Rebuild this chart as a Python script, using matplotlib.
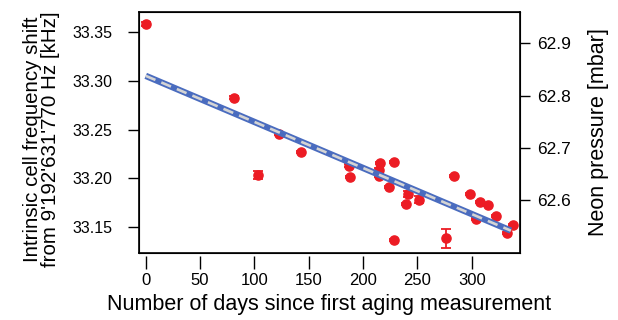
import numpy as np
import matplotlib.pyplot as plt

plt.rcParams['font.family'] = ['Liberation Sans', 'DejaVu Sans']

# measurements: days, frequency shift [kHz], error [kHz]
days = [0, 81.6, 103.6, 122.4, 142.9, 186.8, 188, 215.3, 214.7, 215, 228.5,
        224.2, 228.2, 241.4, 239.3, 251.5, 276.6, 283.4, 298.1, 304.2, 307.9,
        315, 322.4, 332.8, 338]
shift = [33.359, 33.283, 33.203, 33.245, 33.227, 33.213, 33.201, 33.216,
         33.208, 33.202, 33.2165, 33.191, 33.136, 33.184, 33.173, 33.178,
         33.138, 33.202, 33.184, 33.158, 33.175, 33.172, 33.161, 33.144,
         33.152]
err = [0.002, 0.002, 0.004, 0.001, 0.001, 0.002, 0.001, 0.001, 0.002,
       0.001, 0.001, 0.001, 0.001, 0.003, 0.001, 0.004, 0.0095, 0.001,
       0.001, 0.001, 0.001, 0.001, 0.001, 0.001, 0.001]

# linear fit as drawn
fit_days = [0, 336]
fit_shift = [33.3053, 33.146]

fig = plt.figure(figsize=(6.18, 3.2), dpi=100)
ax = fig.add_axes([0.2249, 0.2094, 0.6165, 0.7531])

ax.plot(fit_days, fit_shift, color='#4a6cbf', lw=4.6, solid_capstyle='butt', zorder=3)
ax.plot(fit_days, fit_shift, color='#d4d4d4', lw=1.9, ls=(0, (4, 2.4)), zorder=4)
ax.errorbar(days, shift, yerr=err, fmt='o', color='#ec1c24', ms=6.6,
            capsize=3.5, elinewidth=1.3, capthick=1.3, zorder=2)

ax.set_xlim(-6.2, 344.4)
ax.set_ylim(33.123, 33.371)
ax.set_yticks([33.15, 33.20, 33.25, 33.30, 33.35])
ax.set_yticklabels(['33.15', '33.20', '33.25', '33.30', '33.35'])
for s in ax.spines.values():
    s.set_linewidth(1.2)
ax.tick_params(axis='y', direction='out', length=8, width=1.0, labelsize=11.5, pad=11)
ax.tick_params(axis='x', bottom=False, labelbottom=False)

# x axis slightly offset below the box
sx = ax.secondary_xaxis(-0.012)
sx.spines['bottom'].set_visible(False)
sx.set_xticks([0, 50, 100, 150, 200, 250, 300])
sx.tick_params(direction='out', length=9, width=1.0, labelsize=12, pad=3)
sx.set_xlabel('Number of days since first aging measurement', fontsize=15.5, labelpad=5)

ax.set_ylabel("Intrinsic cell frequency shift\nfrom 9'192'631'770 Hz [kHz]",
              fontsize=14.8, linespacing=0.95)
ax.yaxis.set_label_coords(-0.207, 0.473)

ax2 = ax.twinx()
ax2.set_ylim(62.4985, 62.96)
ax2.set_yticks([62.6, 62.7, 62.8, 62.9])
ax2.tick_params(direction='out', length=7.5, width=1.0, labelsize=12.5, pad=5)
ax2.set_ylabel('Neon pressure [mbar]', fontsize=15.5)
ax2.yaxis.set_label_coords(1.1785, 0.5)

fig.savefig('out.png', dpi=100)
